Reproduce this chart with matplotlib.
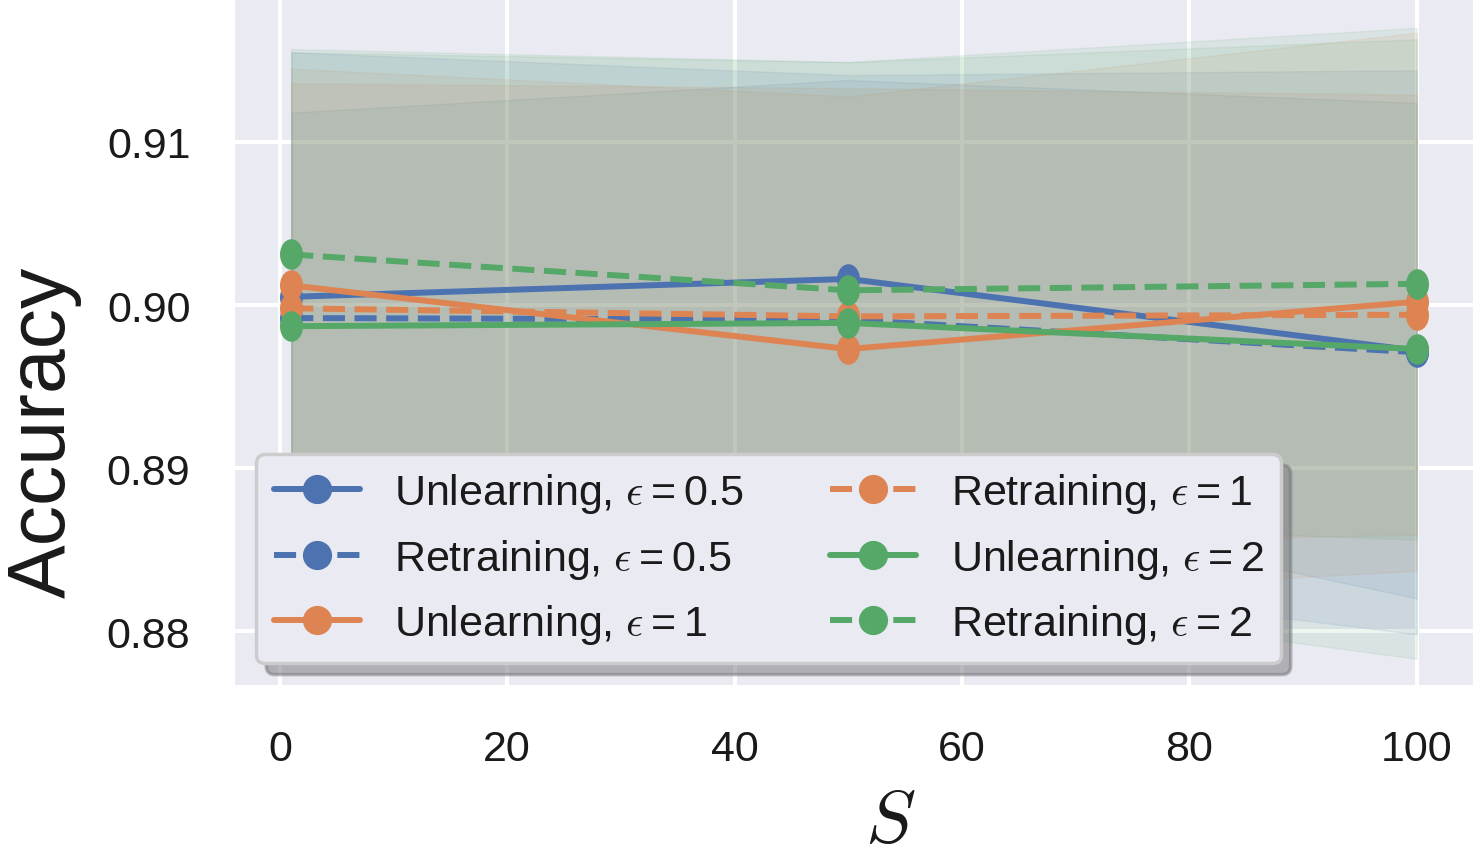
import matplotlib
matplotlib.use("Agg")
import matplotlib.pyplot as plt
import numpy as np
import seaborn as sns
from matplotlib.lines import Line2D
from matplotlib.path import Path
from matplotlib.transforms import Affine2D

sns.set_theme(style="darkgrid")
plt.rcParams['font.family'] = ['Liberation Sans', 'DejaVu Sans']
plt.rcParams['mathtext.fontset'] = 'custom'
plt.rcParams['mathtext.rm'] = 'Liberation Sans'
plt.rcParams['mathtext.it'] = 'cmmi10'
plt.rcParams['text.color'] = '0.1'
plt.rcParams['axes.labelcolor'] = '0.1'
plt.rcParams['xtick.color'] = '0.1'
plt.rcParams['ytick.color'] = '0.1'

# ---- data ----
s_values = [1, 50, 100]

unlearn_05 = [0.9005, 0.9016, 0.8972]
retrain_05 = [0.8992, 0.8991, 0.8971]
unlearn_1 = [0.9012, 0.8973, 0.9002]
retrain_1 = [0.8998, 0.8993, 0.8994]
unlearn_2 = [0.8987, 0.8989, 0.8973]
retrain_2 = [0.9031, 0.9009, 0.9013]

# spread of the shaded bands (+/-)
unlearn_05_std = [0.0113, 0.0122, 0.0152]
retrain_05_std = [0.0163, 0.0150, 0.0173]
unlearn_1_std = [0.0133, 0.0155, 0.0165]
retrain_1_std = [0.0138, 0.0140, 0.0135]
unlearn_2_std = [0.0170, 0.0160, 0.0190]
retrain_2_std = [0.0124, 0.0140, 0.0157]

labels = [r"Unlearning, $\epsilon=0.5$", r"Retraining, $\epsilon=0.5$",
          r"Unlearning, $\epsilon=1$", r"Retraining, $\epsilon=1$",
          r"Unlearning, $\epsilon=2$", r"Retraining, $\epsilon=2$"]

blue, orange, green = "#4C72B0", "#DD8452", "#55A868"
series = [
    (unlearn_05, unlearn_05_std, blue, "-"),
    (retrain_05, retrain_05_std, blue, "--"),
    (unlearn_1, unlearn_1_std, orange, "-"),
    (retrain_1, retrain_1_std, orange, "--"),
    (unlearn_2, unlearn_2_std, green, "-"),
    (retrain_2, retrain_2_std, green, "--"),
]

# slightly narrow oval marker, as in the reference
oval = Path.unit_circle().transformed(Affine2D().scale(0.74, 1.0))

fig = plt.figure(figsize=(14.73, 8.54), dpi=100)
ax = fig.add_axes([0.1595, 0.1967, 0.8405, 0.8033])

x = np.array(s_values)
for mean, std, color, ls in series:
    mean = np.array(mean)
    std = np.array(std)
    ax.fill_between(x, mean - std, mean + std, color=color, alpha=0.1)

handles = []
for (mean, std, color, ls), lab in zip(series, labels):
    ax.plot(x, mean, color=color, linestyle=ls, linewidth=4.3,
            marker=oval, markersize=21)
    handles.append(Line2D([], [], color=color, linestyle=ls, linewidth=4.3,
                          marker="o", markersize=20))

ax.set_xlim(-3.95, 104.95)
ax.set_ylim(0.87669, 0.91877)
ax.set_xticks([0, 20, 40, 60, 80, 100])
ax.set_yticks([0.88, 0.89, 0.90, 0.91])
ax.set_yticklabels(["0.88", "0.89", "0.90", "0.91"])
ax.tick_params(axis="both", labelsize=31, length=0, pad=32)
ax.grid(True, color="white", linewidth=2.9)
for sp in ax.spines.values():
    sp.set_visible(False)

ax.set_xlabel(r"$S$", fontsize=54)
ax.set_ylabel("Accuracy", fontsize=58)
ax.xaxis.set_label_coords(0.529, -0.148)
ax.yaxis.set_label_coords(-0.124, 0.37)

leg = ax.legend(handles, labels, loc="lower left", ncol=2, fontsize=31,
                fancybox=True, framealpha=1, edgecolor="0.8",
                shadow={"ox": 7, "oy": -8, "shade": 0.5})
leg.get_frame().set_linewidth(2.5)

fig.savefig("out.png", dpi=100)
